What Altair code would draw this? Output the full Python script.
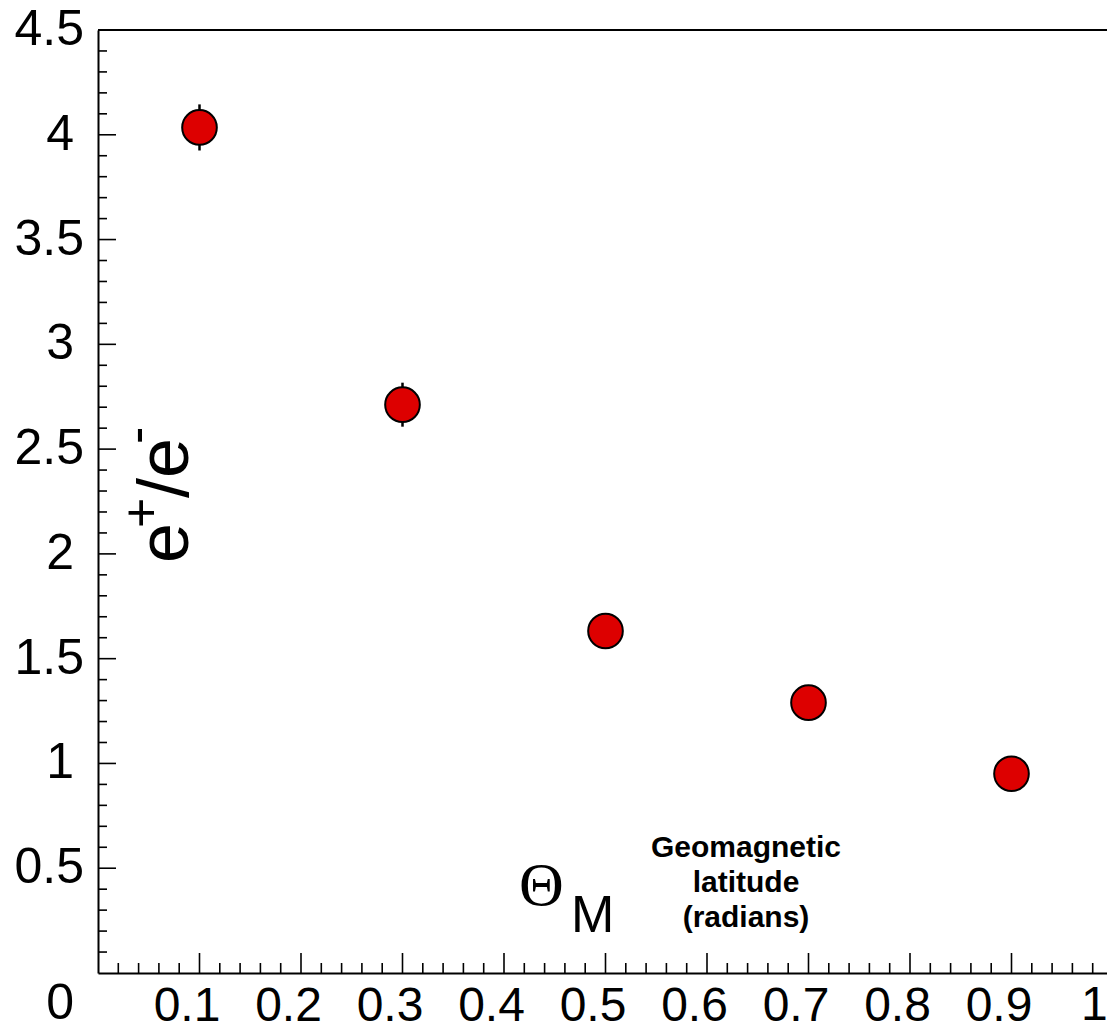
import altair as alt
import pandas as pd

# ---- data ----
theta = [0.1, 0.3, 0.5, 0.7, 0.9]
ratio = [4.035, 2.712, 1.632, 1.290, 0.951]
err = [0.11, 0.105, 0.08, 0.065, 0.065]

x_label_values = [0.1, 0.2, 0.3, 0.4, 0.5, 0.6, 0.7, 0.8, 0.9]
x_last_label = ["1"]
y_int_labels = [1, 2, 3, 4]
y_frac_labels = [0.5, 1.5, 2.5, 3.5, 4.5]
x_major = [0.1, 0.2, 0.3, 0.4, 0.5, 0.6, 0.7, 0.8, 0.9]
x_minor = [round(0.02 * i, 2) for i in range(1, 50) if i % 5 != 0]
y_major = [0.5, 1.0, 1.5, 2.0, 2.5, 3.0, 3.5, 4.0]
y_minor = [round(0.1 * i, 1) for i in range(1, 45) if i % 5 != 0]

y_title_parts = ["e", "+", "/e", "-"]
x_title_parts = ["\u0398", "M"]
x_note = "Geomagnetic\nlatitude\n(radians)"
corner_label = ["0"]

# ---- layout ----
W, H = 1009, 943
XR = 1015
FONT = "Liberation Sans"
LS = 50      # y tick label size
XLS = 48     # x tick label size

df = pd.DataFrame({"theta": theta, "ratio": ratio, "err": err})
df["lo"] = df["ratio"] - df["err"]
df["hi"] = df["ratio"] + df["err"]

xscale = alt.Scale(domain=[0, 1], range=[0, XR], nice=False, zero=False)
yscale = alt.Scale(domain=[0, 4.5], nice=False, zero=False)

xaxis = alt.Axis(
    values=x_label_values, title=None, grid=False, ticks=False, tickSize=0,
    domain=True, domainColor="black", domainWidth=2,
    labelFont=FONT, labelFontSize=XLS, labelColor="black",
    labelPadding=9, labelOffset=-13, labelFlush=False, labelOverlap=False,
    format="~g",
)
yaxis = alt.Axis(
    title=None, grid=False, ticks=False, tickSize=0, labels=False,
    domain=True, domainColor="black", domainWidth=2,
)

bars = alt.Chart(df).mark_rule(color="black", strokeWidth=2.5).encode(
    x=alt.X("theta:Q", scale=xscale, axis=xaxis),
    y=alt.Y("lo:Q", scale=yscale, axis=yaxis),
    y2="hi:Q",
)

points = alt.Chart(df).mark_circle(
    size=1200, color="#dd0000", stroke="black", strokeWidth=2, opacity=1
).encode(
    x=alt.X("theta:Q", scale=xscale),
    y=alt.Y("ratio:Q", scale=yscale),
)

def xticks(vals, length):
    return alt.Chart(pd.DataFrame({"v": vals})).mark_rule(
        color="black", strokeWidth=1.6
    ).encode(
        x=alt.X("v:Q", scale=xscale),
        y=alt.value(H),
        y2=alt.value(H - length),
    )

def yticks(vals, length):
    return alt.Chart(pd.DataFrame({"v": vals})).mark_rule(
        color="black", strokeWidth=1.6
    ).encode(
        y=alt.Y("v:Q", scale=yscale),
        x=alt.value(0),
        x2=alt.value(length),
    )

def ylabels(vals, xpos):
    return alt.Chart(pd.DataFrame({"v": vals})).mark_text(
        font=FONT, fontSize=LS, color="black", align="right", baseline="middle"
    ).encode(
        y=alt.Y("v:Q", scale=yscale),
        x=alt.value(xpos),
        text=alt.Text("v:Q", format="~g"),
    )

top_line = alt.Chart(pd.DataFrame({"v": [0]})).mark_rule(
    color="black", strokeWidth=2
).encode(x=alt.value(0), x2=alt.value(XR), y=alt.value(0))

def label(txt, x, y, size, angle=0, align="left", baseline="alphabetic",
          font=FONT, weight="normal", line_height=None):
    kw = dict(font=font, fontSize=size, fontWeight=weight, color="black",
              align=align, baseline=baseline, angle=angle)
    if line_height is not None:
        kw["lineBreak"] = "\n"
        kw["lineHeight"] = line_height
    return alt.Chart(pd.DataFrame({"t": [txt]})).mark_text(**kw).encode(
        text="t:N", x=alt.value(x), y=alt.value(y)
    )

texts = [
    # y title  e+/e-  (rotated)
    label(y_title_parts[0], 90, 533, 72, angle=270),
    label(y_title_parts[1], 61, 498, 52, angle=270),
    label(y_title_parts[2], 90, 468, 72, angle=270),
    label(y_title_parts[3], 56, 414, 52, angle=270),
    # Theta_M
    label(x_title_parts[0], 421, 875, 62, font="Liberation Serif"),
    label(x_title_parts[1], 473, 902, 52),
    # note
    label(x_note, 648, 827, 30, align="center", weight="bold", line_height=35),
    # corner "0" and last x label "1"
    label(corner_label[0], -24, 974, LS, align="right", baseline="middle"),
    label(x_last_label[0], 983, H + 9, XLS, align="left", baseline="top"),
]

chart = alt.layer(
    bars, points,
    xticks(x_major, 20), xticks(x_minor, 10),
    yticks(y_major, 18), yticks(y_minor, 9),
    ylabels(y_int_labels, -24), ylabels(y_frac_labels, -14),
    top_line, *texts,
).properties(
    width=W, height=H,
    autosize=alt.AutoSizeParams(type="none"),
    padding={"left": 98, "top": 30, "right": 0, "bottom": 57},
    background="white",
).configure_view(strokeWidth=0).configure_axis(grid=False)

chart.save("out.html", embed_options={"renderer": "svg", "actions": False})
